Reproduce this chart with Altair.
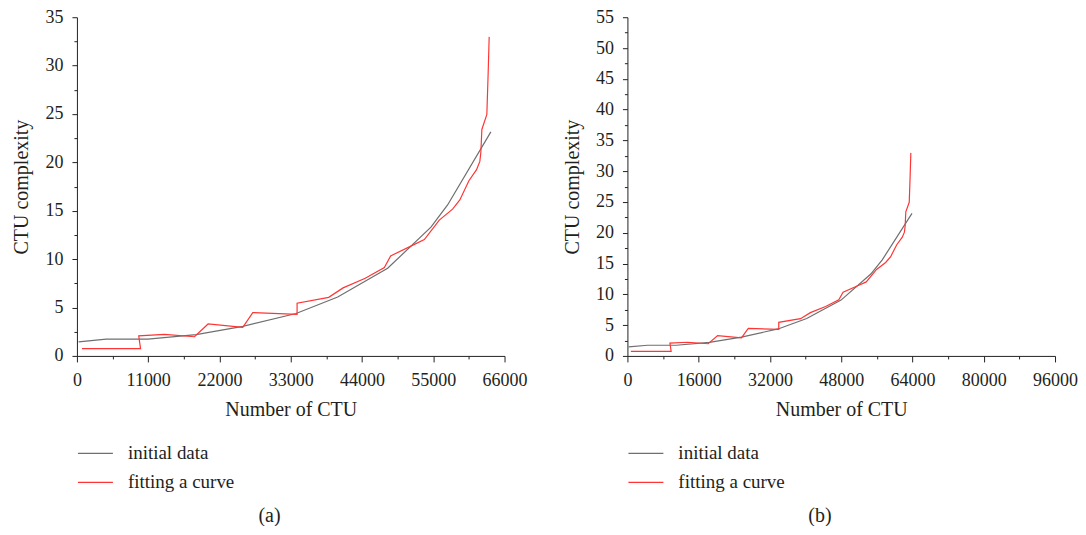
import altair as alt
import pandas as pd

# initial data (gray)
gray_x = [257, 4523, 10948, 18400, 25600, 33820, 40250, 47960, 54640, 57210, 63890]
gray_y = [1.46, 1.73, 1.73, 2.2, 3.06, 4.38, 6.08, 9.06, 13.3, 15.6, 23.15]

# fitting a curve (red)
red_x = [770, 9817, 9540, 13520, 18140, 20250, 25600, 27140, 33980, 33980, 38860,
         41080, 44500, 47450, 48420, 51700, 53620, 55930, 57980, 59100, 60500,
         61680, 62190, 62350, 62500, 63270, 63480, 63630]
red_y = [0.75, 0.75, 2.08, 2.22, 1.98, 3.3, 2.95, 4.48, 4.3, 5.45, 6.05,
         7.03, 8.03, 9.13, 10.34, 11.4, 12.02, 14.04, 15.17, 16.12, 18.1,
         19.25, 20.1, 21.1, 23.4, 24.95, 29.4, 32.97]

series_names = ["initial data", "fitting a curve"]
series_colors = ["#6f6f6f", "#ff3535"]

rows = []
for i, (x, y) in enumerate(zip(gray_x, gray_y)):
    rows.append({"series": series_names[0], "idx": i, "x": x, "y": y})
for i, (x, y) in enumerate(zip(red_x, red_y)):
    rows.append({"series": series_names[1], "idx": i, "x": x, "y": y})
df = pd.DataFrame(rows)

FONT = "Liberation Serif"


def panel(xmax, xstep, ymax, caption):
    xvals = list(range(0, xmax + 1, xstep // 2))
    yvals = [v * 2.5 for v in range(int(ymax / 2.5) + 1)]
    x_axis = alt.Axis(
        values=xvals,
        format="d",
        labelExpr=f"datum.value % {xstep} === 0 ? datum.label : ''",
        labelOverlap=False,
        labelFlush=False,
        grid=False,
        domainColor="#222222",
        tickColor="#222222",
        tickSize={"condition": {"test": f"datum.value % {xstep} !== 0", "value": 3}, "value": 6},
        labelFont=FONT, labelFontSize=18, labelColor="#231f20",
        labelPadding=10,
        title="Number of CTU", titleFont=FONT, titleFontSize=20,
        titleFontWeight="normal", titleColor="#231f20", titlePadding=10,
    )
    y_axis = alt.Axis(
        values=yvals,
        labelExpr="datum.value % 5 === 0 ? datum.label : ''",
        labelOverlap=False,
        labelFlush=False,
        grid=False,
        domainColor="#222222",
        tickColor="#222222",
        tickSize={"condition": {"test": "datum.value % 5 !== 0", "value": 3}, "value": 5},
        labelFont=FONT, labelFontSize=18, labelColor="#231f20",
        labelPadding=9,
        title="CTU complexity", titleFont=FONT, titleFontSize=20,
        titleFontWeight="normal", titleColor="#231f20", titlePadding=13,
    )
    legend = alt.Legend(
        orient="none", legendX=0, legendY=418, title=None,
        symbolType="stroke", symbolSize=1225, symbolStrokeWidth=1.3,
        labelFont=FONT, labelFontSize=19, labelColor="#231f20",
        labelOffset=14, rowPadding=-11, direction="vertical",
    )
    return alt.Chart(df).mark_line(strokeWidth=1.2, clip=True).encode(
        x=alt.X("x:Q", scale=alt.Scale(domain=[0, xmax], nice=False), axis=x_axis),
        y=alt.Y("y:Q", scale=alt.Scale(domain=[0, ymax], nice=False), axis=y_axis),
        color=alt.Color("series:N", scale=alt.Scale(domain=series_names, range=series_colors),
                        legend=legend),
        order="idx:Q",
    ).properties(
        width=428, height=339,
        title=alt.TitleParams(caption, orient="bottom", anchor="middle", frame="bounds",
                              font=FONT, fontSize=20, fontWeight="normal",
                              color="#231f20", offset=13),
    )


left = panel(66000, 11000, 35, "(a)")
right = panel(96000, 16000, 55, "(b)")

chart = alt.hconcat(left, right, spacing=35).resolve_scale(
    x="independent", y="independent"
).resolve_legend(color="independent").configure_view(stroke=None).properties(
    padding={"left": 4, "top": 0, "right": 0, "bottom": 0}, background="white"
)

chart.save("out.html", embed_options={"renderer": "svg", "actions": False})
